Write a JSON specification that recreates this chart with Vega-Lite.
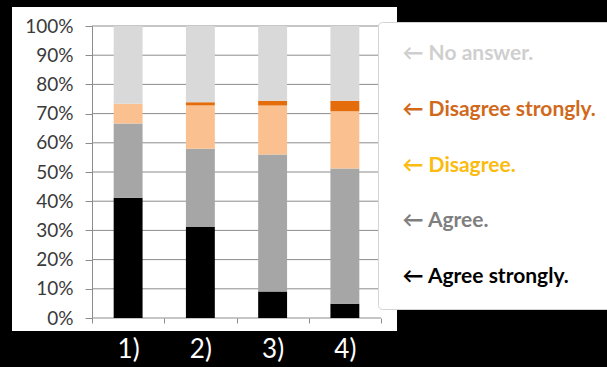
{
  "$schema": "https://vega.github.io/schema/vega-lite/v6.json",
  "background": "black",
  "autosize": {"type": "none"},
  "padding": {"left": 12, "top": 7, "right": 210, "bottom": 36},
  "width": 385,
  "height": 324,
  "config": {"view": {"fill": "white", "stroke": null}},
  "layer": [
    {
      "data": {"values": [{"v": 0}, {"v": 0.1}, {"v": 0.2}, {"v": 0.3}, {"v": 0.4}, {"v": 0.5}, {"v": 0.6}, {"v": 0.7}, {"v": 0.8}, {"v": 0.9}, {"v": 1}]},
      "mark": {"type": "rule", "color": "#8c8c8c", "strokeWidth": 1},
      "encoding": {
        "y": {"field": "v", "type": "quantitative", "scale": {"domain": [0, 1], "range": [311, 19]},
          "axis": {"values": [0, 0.1, 0.2, 0.3, 0.4, 0.5, 0.6, 0.7, 0.8, 0.9, 1], "format": ".0%", "offset": -80, "grid": false, "tickSize": 7, "tickColor": "#8c8c8c", "domainColor": "#8c8c8c", "labelFont": "Lato", "labelFontSize": 19, "labelColor": "#3a3a3a", "labelPadding": 12, "title": null}},
        "x": {"datum": "1)", "type": "nominal", "bandPosition": 0,
          "axis": {"orient": "bottom", "offset": -13, "domain": false, "tickBand": "extent", "tickSize": 5, "tickColor": "#8c8c8c", "labelColor": "white", "labelFont": "Lato", "labelFontSize": 26, "labelPadding": 13, "labelAngle": 0, "title": null}},
        "x2": {"datum": "4)", "bandPosition": 1}
      }
    },
    {
      "data": {"values": [
        {"question": "1)", "response": "Agree strongly.", "level": 1, "pct": 0.412},
        {"question": "1)", "response": "Agree.", "level": 2, "pct": 0.254},
        {"question": "1)", "response": "Disagree.", "level": 3, "pct": 0.068},
        {"question": "1)", "response": "Disagree strongly.", "level": 4, "pct": 0.0},
        {"question": "1)", "response": "No answer.", "level": 5, "pct": 0.266},
        {"question": "2)", "response": "Agree strongly.", "level": 1, "pct": 0.312},
        {"question": "2)", "response": "Agree.", "level": 2, "pct": 0.268},
        {"question": "2)", "response": "Disagree.", "level": 3, "pct": 0.148},
        {"question": "2)", "response": "Disagree strongly.", "level": 4, "pct": 0.011},
        {"question": "2)", "response": "No answer.", "level": 5, "pct": 0.261},
        {"question": "3)", "response": "Agree strongly.", "level": 1, "pct": 0.091},
        {"question": "3)", "response": "Agree.", "level": 2, "pct": 0.469},
        {"question": "3)", "response": "Disagree.", "level": 3, "pct": 0.168},
        {"question": "3)", "response": "Disagree strongly.", "level": 4, "pct": 0.016},
        {"question": "3)", "response": "No answer.", "level": 5, "pct": 0.256},
        {"question": "4)", "response": "Agree strongly.", "level": 1, "pct": 0.049},
        {"question": "4)", "response": "Agree.", "level": 2, "pct": 0.463},
        {"question": "4)", "response": "Disagree.", "level": 3, "pct": 0.196},
        {"question": "4)", "response": "Disagree strongly.", "level": 4, "pct": 0.036},
        {"question": "4)", "response": "No answer.", "level": 5, "pct": 0.256}
      ]},
      "mark": {"type": "bar", "width": {"band": 0.4}},
      "encoding": {
        "x": {
          "field": "question", "type": "nominal",
          "scale": {"domain": ["1)", "2)", "3)", "4)"], "range": [80, 369], "paddingInner": 0, "paddingOuter": 0},
          "axis": {"orient": "bottom", "offset": -13, "domain": false, "tickBand": "extent", "tickSize": 5, "tickColor": "#8c8c8c", "labelColor": "white", "labelFont": "Lato", "labelFontSize": 26, "labelPadding": 13, "labelAngle": 0, "title": null}
        },
        "y": {
          "field": "pct", "type": "quantitative", "stack": "zero",
          "scale": {"domain": [0, 1], "range": [311, 19]},
          "axis": {"values": [0, 0.1, 0.2, 0.3, 0.4, 0.5, 0.6, 0.7, 0.8, 0.9, 1], "format": ".0%", "offset": -80, "grid": false, "tickSize": 7, "tickColor": "#8c8c8c", "domainColor": "#8c8c8c", "labelFont": "Lato", "labelFontSize": 19, "labelColor": "#3a3a3a", "labelPadding": 12, "title": null}
        },
        "order": {"field": "level", "type": "quantitative", "sort": "ascending"},
        "color": {
          "field": "response", "type": "nominal",
          "sort": ["No answer.", "Disagree strongly.", "Disagree.", "Agree.", "Agree strongly."],
          "scale": {"domain": ["No answer.", "Disagree strongly.", "Disagree.", "Agree.", "Agree strongly."], "range": ["#d9d9d9", "#e46c0a", "#fac090", "#a6a6a6", "#000000"]},
          "legend": {
            "orient": "none", "legendX": 366, "legendY": 15, "title": null,
            "values": ["No answer.", "Disagree strongly.", "Disagree.", "Agree.", "Agree strongly."],
            "fillColor": "white", "strokeColor": "#d4d4d4", "cornerRadius": 4, "padding": 21.5,
            "symbolSize": 1, "symbolOpacity": 0, "symbolStrokeWidth": 0, "labelOffset": -18,
            "rowPadding": 33.75, "labelFont": "Lato", "labelFontWeight": "bold", "labelFontSize": 21, "labelLimit": 0,
            "labelExpr": "'← ' + datum.label",
            "encode": {"labels": {"update": {"fill": {"signal": "datum.value === 'No answer.' ? '#cfcfcf' : datum.value === 'Disagree strongly.' ? '#d0691b' : datum.value === 'Disagree.' ? '#fbbb0f' : datum.value === 'Agree.' ? '#7f7f7f' : '#000000'"}}}}
          }
        }
      }
    }
  ]
}
